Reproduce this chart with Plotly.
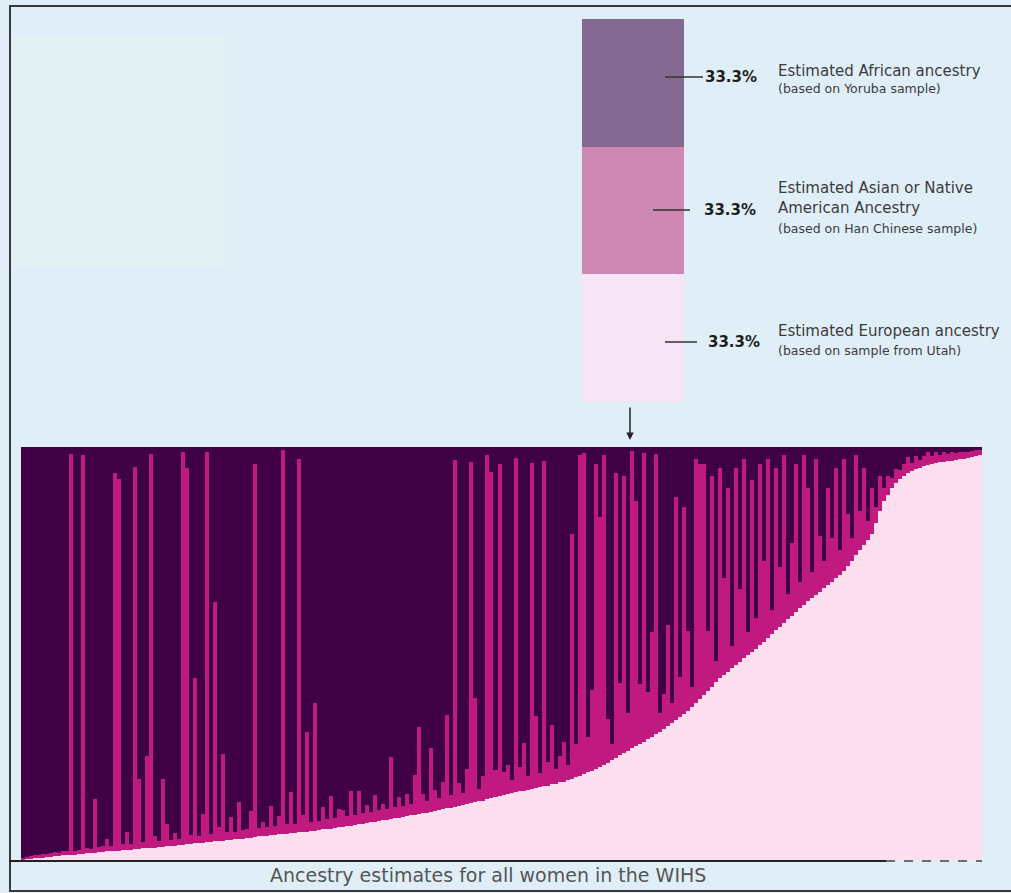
import plotly.graph_objects as go

# ---------------- data ----------------
european = [
    0.000, 0.002, 0.003, 0.004, 0.005, 0.006, 0.007, 0.008, 0.009, 0.010,
    0.011, 0.012, 0.012, 0.013, 0.014, 0.015, 0.016, 0.017, 0.018, 0.019,
    0.020, 0.021, 0.021, 0.022, 0.023, 0.024, 0.024, 0.025, 0.026, 0.027,
    0.028, 0.028, 0.029, 0.030, 0.031, 0.032, 0.033, 0.034, 0.035, 0.036,
    0.037, 0.038, 0.039, 0.040, 0.041, 0.042, 0.043, 0.044, 0.045, 0.046,
    0.047, 0.048, 0.049, 0.050, 0.051, 0.052, 0.053, 0.054, 0.055, 0.057,
    0.058, 0.059, 0.060, 0.061, 0.062, 0.063, 0.064, 0.065, 0.066, 0.067,
    0.068, 0.069, 0.070, 0.071, 0.072, 0.074, 0.075, 0.076, 0.077, 0.079,
    0.080, 0.082, 0.083, 0.085, 0.086, 0.088, 0.089, 0.091, 0.093, 0.094,
    0.096, 0.097, 0.099, 0.101, 0.102, 0.104, 0.106, 0.108, 0.110, 0.112,
    0.114, 0.115, 0.117, 0.119, 0.121, 0.123, 0.125, 0.127, 0.129, 0.131,
    0.133, 0.135, 0.138, 0.140, 0.142, 0.144, 0.147, 0.150, 0.152, 0.155,
    0.158, 0.160, 0.162, 0.164, 0.166, 0.168, 0.170, 0.172, 0.174, 0.176,
    0.178, 0.180, 0.183, 0.185, 0.188, 0.190, 0.193, 0.196, 0.200, 0.204,
    0.208, 0.212, 0.216, 0.220, 0.225, 0.230, 0.236, 0.242, 0.248, 0.254,
    0.260, 0.265, 0.270, 0.275, 0.280, 0.286, 0.292, 0.298, 0.304, 0.310,
    0.318, 0.325, 0.332, 0.340, 0.347, 0.354, 0.360, 0.370, 0.380, 0.390,
    0.400, 0.410, 0.420, 0.430, 0.440, 0.448, 0.456, 0.464, 0.472, 0.480,
    0.488, 0.496, 0.504, 0.512, 0.520, 0.528, 0.538, 0.547, 0.556, 0.565,
    0.574, 0.583, 0.592, 0.601, 0.610, 0.618, 0.626, 0.634, 0.642, 0.650,
    0.658, 0.666, 0.674, 0.682, 0.690, 0.700, 0.712, 0.725, 0.738, 0.750,
    0.762, 0.775, 0.790, 0.815, 0.845, 0.870, 0.885, 0.900, 0.912, 0.922,
    0.930, 0.936, 0.941, 0.946, 0.950, 0.954, 0.957, 0.959, 0.961, 0.963,
    0.964, 0.965, 0.966, 0.968, 0.970, 0.972, 0.974, 0.976, 0.978, 0.980,
]

asian = [
    0.005, 0.006, 0.006, 0.007, 0.007, 0.008, 0.008, 0.009, 0.010, 0.008,
    0.011, 0.009, 0.970, 0.010, 0.011, 0.965, 0.012, 0.010, 0.130, 0.012,
    0.013, 0.030, 0.012, 0.915, 0.900, 0.014, 0.045, 0.013, 0.925, 0.170,
    0.015, 0.225, 0.955, 0.028, 0.014, 0.165, 0.055, 0.015, 0.030, 0.016,
    0.950, 0.910, 0.022, 0.400, 0.017, 0.070, 0.945, 0.018, 0.580, 0.035,
    0.210, 0.019, 0.055, 0.018, 0.090, 0.020, 0.022, 0.065, 0.905, 0.020,
    0.035, 0.020, 0.070, 0.021, 0.045, 0.930, 0.022, 0.100, 0.022, 0.905,
    0.040, 0.240, 0.023, 0.310, 0.023, 0.055, 0.024, 0.080, 0.024, 0.045,
    0.040, 0.024, 0.085, 0.025, 0.080, 0.025, 0.045, 0.026, 0.065, 0.026,
    0.040, 0.026, 0.150, 0.027, 0.050, 0.027, 0.055, 0.028, 0.095, 0.210,
    0.045, 0.028, 0.155, 0.050, 0.029, 0.065, 0.225, 0.030, 0.840, 0.055,
    0.030, 0.085, 0.825, 0.252, 0.031, 0.060, 0.833, 0.790, 0.065, 0.805,
    0.055, 0.070, 0.032, 0.810, 0.060, 0.115, 0.033, 0.790, 0.175, 0.034,
    0.787, 0.058, 0.145, 0.035, 0.063, 0.095, 0.036, 0.594, 0.080, 0.776,
    0.777, 0.085, 0.195, 0.740, 0.605, 0.750, 0.105, 0.040, 0.690, 0.175,
    0.670, 0.090, 0.720, 0.595, 0.145, 0.700, 0.115, 0.255, 0.680, 0.045,
    0.085, 0.245, 0.048, 0.540, 0.095, 0.500, 0.195, 0.050, 0.590, 0.570,
    0.560, 0.145, 0.510, 0.052, 0.510, 0.235, 0.444, 0.054, 0.478, 0.175,
    0.482, 0.056, 0.416, 0.075, 0.440, 0.195, 0.432, 0.058, 0.394, 0.145,
    0.406, 0.060, 0.175, 0.359, 0.062, 0.362, 0.274, 0.064, 0.328, 0.135,
    0.065, 0.234, 0.105, 0.268, 0.060, 0.270, 0.125, 0.055, 0.242, 0.095,
    0.188, 0.045, 0.110, 0.040, 0.085, 0.030, 0.045, 0.025, 0.035, 0.022,
    0.028, 0.040, 0.020, 0.032, 0.018, 0.024, 0.030, 0.020, 0.027, 0.018,
    0.025, 0.019, 0.022, 0.017, 0.018, 0.016, 0.015, 0.014, 0.014, 0.013,
]

# African share is the remainder of each woman's 100 %
african = [round(max(0.0, 1.0 - e - a), 3) for e, a in zip(european, asian)]
women = list(range(1, len(european) + 1))

legend_groups = ["European", "Asian or Native American", "African"]
legend_pct = [33.3, 33.3, 33.3]
legend_main = [
    "Estimated European ancestry",
    "Estimated Asian or Native<br>American Ancestry",
    "Estimated African ancestry",
]
legend_sub = [
    "(based on sample from Utah)",
    "(based on Han Chinese sample)",
    "(based on Yoruba sample)",
]
chart_title = "Ancestry estimates for all women in the WIHS"

# ---------------- styling ----------------
W, H = 1011, 893
BG = "#e0eef8"
main_colors = ["#fcdfef", "#c01a80", "#3f0045"]
legend_colors = ["#f7e4f4", "#ce88b4", "#846a91"]
FONT = "DejaVu Sans"


def px(x):
    return x / W


def py(y):
    return 1 - y / H


fig = go.Figure()

for vals, col, name in zip([european, asian, african], main_colors, legend_groups):
    fig.add_trace(go.Bar(
        x=women, y=vals, name=name, marker=dict(color=col, line=dict(width=0)),
        xaxis="x", yaxis="y", showlegend=False, hoverinfo="skip",
    ))

for pct, col, name in zip(legend_pct, legend_colors, legend_groups):
    fig.add_trace(go.Bar(
        x=[0], y=[pct], name=name, marker=dict(color=col, line=dict(width=0)),
        xaxis="x2", yaxis="y2", showlegend=False, hoverinfo="skip",
    ))

shapes = []
annotations = []

# faint panel top-left
shapes.append(dict(type="rect", xref="paper", yref="paper",
                   x0=px(12), x1=px(225), y0=py(267), y1=py(36),
                   fillcolor="#e4f1f4", line=dict(width=0), layer="below"))

# frame lines
frame = dict(color="#3a3a3a", width=2)
shapes.append(dict(type="line", xref="paper", yref="paper",
                   x0=px(9), x1=1, y0=py(6), y1=py(6), line=frame))
shapes.append(dict(type="line", xref="paper", yref="paper",
                   x0=px(10), x1=px(10), y0=py(6), y1=py(891), line=frame))
shapes.append(dict(type="line", xref="paper", yref="paper",
                   x0=px(9), x1=1, y0=py(891), y1=py(891), line=frame))
# baseline under the chart
shapes.append(dict(type="line", xref="paper", yref="paper",
                   x0=px(9), x1=px(886), y0=py(861), y1=py(861),
                   line=dict(color="#222222", width=2)))
shapes.append(dict(type="line", xref="paper", yref="paper",
                   x0=px(886), x1=px(982), y0=py(861), y1=py(861),
                   line=dict(color="#444444", width=1.5, dash="dash")))

# legend leader lines, percentage labels and descriptions
line_x0 = [665, 653, 665]
line_x1 = [697, 690, 703]
pct_x = [706, 702, 703]
label_y = [342, 210, 77]
main_y = [331, 198, 71]
sub_y = [350, 229, 89]
for k, pct in enumerate(legend_pct):
    shapes.append(dict(type="line", xref="paper", yref="paper",
                       x0=px(line_x0[k]), x1=px(line_x1[k]),
                       y0=py(label_y[k]), y1=py(label_y[k]),
                       line=dict(color="#333333", width=1.5)))
    annotations.append(dict(
        xref="paper", yref="paper", x=px(pct_x[k]), y=py(label_y[k]),
        text=f"<b>{pct:.1f}%</b>", showarrow=False, xanchor="left", yanchor="middle",
        font=dict(family=FONT, size=15, color="#1e1e1e")))
    annotations.append(dict(
        xref="paper", yref="paper", x=px(776), y=py(main_y[k]),
        text=legend_main[k], showarrow=False, xanchor="left", yanchor="middle",
        align="left", font=dict(family=FONT, size=15, color="#3c3c3c")))
    annotations.append(dict(
        xref="paper", yref="paper", x=px(776), y=py(sub_y[k]),
        text=legend_sub[k], showarrow=False, xanchor="left", yanchor="middle",
        font=dict(family=FONT, size=12.5, color="#3c3c3c")))

# arrow from legend bar to chart
annotations.append(dict(
    xref="paper", yref="paper", x=px(630), y=py(440), ax=0, ay=-34,
    axref="pixel", ayref="pixel", text="", showarrow=True,
    arrowhead=2, arrowsize=1, arrowwidth=1.5, arrowcolor="#222222"))

# chart caption
annotations.append(dict(
    xref="paper", yref="paper", x=px(488), y=py(875), text=chart_title,
    showarrow=False, xanchor="center", yanchor="middle",
    font=dict(family=FONT, size=19, color="#555555")))

fig.update_layout(
    width=W, height=H, margin=dict(l=0, r=0, t=0, b=0),
    paper_bgcolor=BG, plot_bgcolor=BG,
    barmode="stack", bargap=0, showlegend=False,
    xaxis=dict(domain=[px(21), px(982)], range=[0.5, len(women) + 0.5],
               visible=False, fixedrange=True),
    yaxis=dict(domain=[py(860), py(447)], range=[0, 1], visible=False, fixedrange=True),
    xaxis2=dict(domain=[px(582), px(684)], range=[-0.5, 0.5], anchor="y2",
                visible=False, fixedrange=True),
    yaxis2=dict(domain=[py(402), py(19)], range=[0, sum(legend_pct)], anchor="x2",
                visible=False, fixedrange=True),
    shapes=shapes, annotations=annotations,
)

fig.write_html("out.html", config={"displayModeBar": False},
               post_script="document.body.style.margin='0';document.body.style.overflow='hidden';")
